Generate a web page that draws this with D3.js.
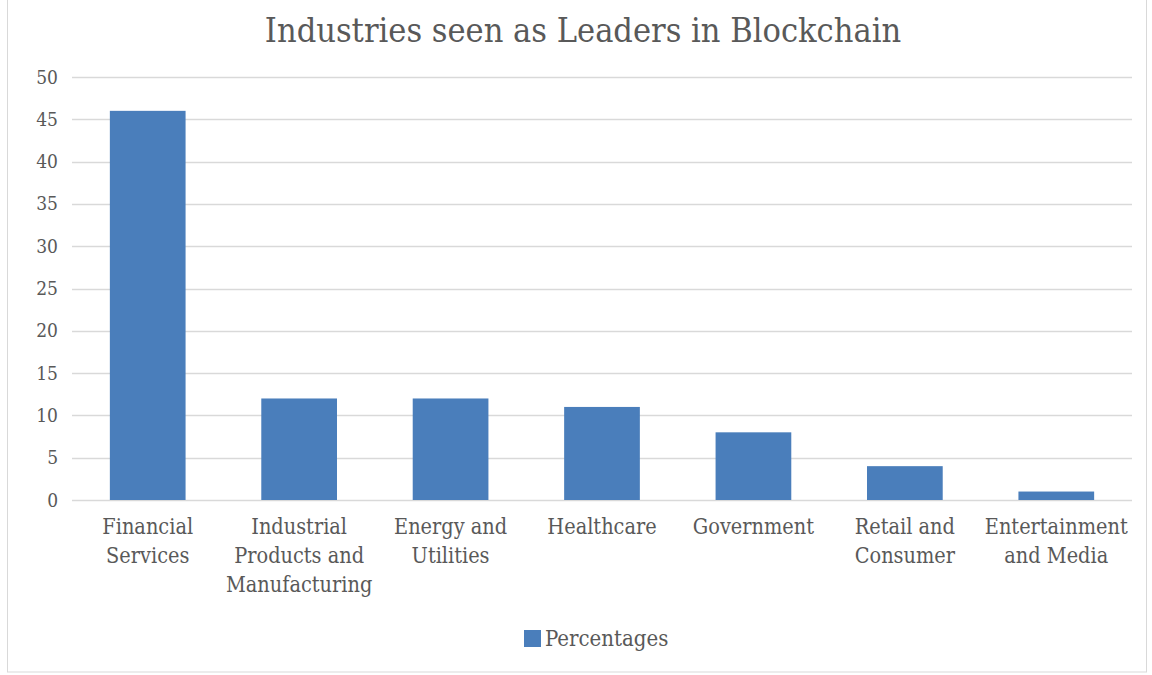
<!DOCTYPE html>
<html>
<head>
<meta charset="utf-8">
<script src="https://cdn.jsdelivr.net/npm/d3@7"></script>
<style>
  body { margin: 0; background: #fff; }
  svg text { font-family: "DejaVu Serif Condensed", "DejaVu Serif", serif; fill: #595959; }
</style>
</head>
<body>
<div id="chart"></div>
<script>
var categories = [
  ["Financial", "Services"],
  ["Industrial", "Products and", "Manufacturing"],
  ["Energy and", "Utilities"],
  ["Healthcare"],
  ["Government"],
  ["Retail and", "Consumer"],
  ["Entertainment", "and Media"]
];
var percentages = [46, 12, 12, 11, 8, 4, 1];
var yTicks = [0, 5, 10, 15, 20, 25, 30, 35, 40, 45, 50];
var seriesName = "Percentages";
var title = "Industries seen as Leaders in Blockchain";

var W = 1152, H = 675;
var margin = { top: 77, right: 20, bottom: 175, left: 72 },
    width = 1132 - margin.left,
    height = 500 - margin.top;
var barColor = "#4a7ebb";

var svg = d3.select("#chart").append("svg")
    .attr("width", W)
    .attr("height", H);

// outer frame like the Excel chart area
svg.append("rect")
    .attr("x", 7.5).attr("y", -2)
    .attr("width", 1139).attr("height", 674)
    .attr("fill", "#fff")
    .attr("stroke", "#d9d9d9");

svg.append("text")
    .attr("x", 583).attr("y", 42)
    .attr("text-anchor", "middle")
    .style("font-size", "34px")
    .text(title);

var g = svg.append("g")
    .attr("transform", "translate(" + margin.left + "," + margin.top + ")");

var idx = d3.range(categories.length);
var x = d3.scaleBand().domain(idx).range([0, width]).paddingInner(0.5).paddingOuter(0.25);
var y = d3.scaleLinear().domain([0, 50]).range([height, 0]);

// gridlines
g.append("g")
  .selectAll("line")
  .data(yTicks)
  .enter().append("line")
    .attr("x1", 0).attr("x2", width)
    .attr("y1", function(d) { return Math.round(y(d)) + 0.5; })
    .attr("y2", function(d) { return Math.round(y(d)) + 0.5; })
    .attr("stroke", "#d9d9d9")
    .attr("stroke-width", 1.5);

// y axis labels
var yAxis = d3.axisLeft(y).tickValues(yTicks).tickSize(0).tickPadding(14);
g.append("g").call(yAxis)
  .call(function(a) { a.select(".domain").remove(); })
  .selectAll("text")
    .style("font-size", "19px")
    .attr("fill", "#595959");

// bars
g.selectAll(".bar")
  .data(percentages)
  .enter().append("rect")
    .attr("class", "bar")
    .attr("x", function(d, i) { return x(i); })
    .attr("y", function(d) { return y(d); })
    .attr("width", x.bandwidth())
    .attr("height", function(d) { return height - y(d); })
    .attr("fill", barColor);

// x labels
var xl = g.append("g").selectAll("text")
  .data(categories)
  .enter().append("text")
    .attr("x", function(d, i) { return x(i) + x.bandwidth() / 2; })
    .attr("y", height + 34)
    .attr("text-anchor", "middle")
    .style("font-size", "21.5px");
xl.selectAll("tspan")
  .data(function(d) { return d; })
  .enter().append("tspan")
    .attr("x", function() { return d3.select(this.parentNode).attr("x"); })
    .attr("dy", function(d, i) { return i ? 29 : 0; })
    .text(function(d) { return d; });

// legend
var lg = svg.append("g").attr("transform", "translate(524,630)");
lg.append("rect").attr("width", 17).attr("height", 17).attr("fill", barColor);
lg.append("text").attr("x", 21).attr("y", 16).style("font-size", "22px").text(seriesName);
</script>
</body>
</html>
